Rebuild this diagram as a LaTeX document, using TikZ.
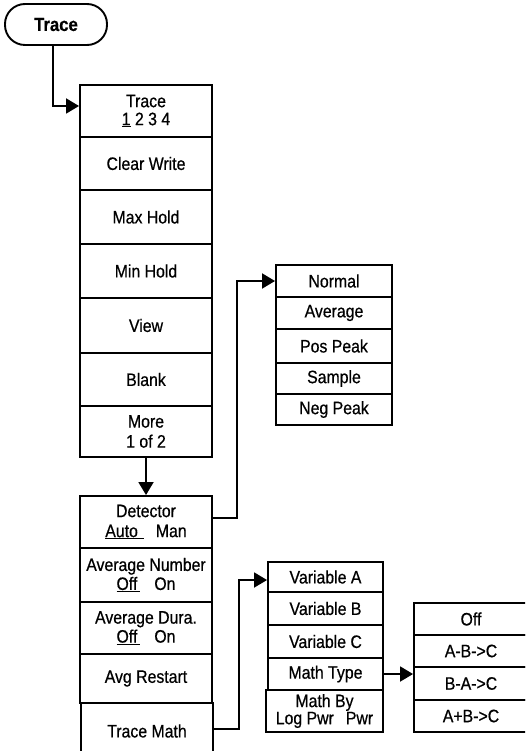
\documentclass[tikz,border=0pt]{standalone}
\usepackage{fontspec}
\setmainfont{Liberation Sans}[FakeStretch=0.88,FakeBold=0.6]
\usetikzlibrary{arrows.meta}
\begin{document}
\begin{tikzpicture}[x=1pt,y=-1pt,line width=1.9pt,
  txt/.style={font=\fontsize{18}{20}\selectfont},
  box/.style={draw, txt, inner sep=0pt, align=center},
  mainbox/.style={box, minimum width=132pt},
  detbox/.style={box, minimum width=116pt},
  varbox/.style={box, minimum width=115pt},
  mathbox/.style={box, minimum width=114pt},
  arr/.style={-{Triangle[length=13pt,width=15pt]}}]
\clip (0,0) rectangle (525,751);
% key
\node[draw, rounded corners=20pt, minimum width=102pt, minimum height=41pt, inner sep=0pt,
      font=\bfseries\fontsize{19}{20}\selectfont] (key) at (56,24.5) {Trace};
% main column
\node[mainbox, minimum height=52pt, font=\fontsize{18}{18}\selectfont] (trace) at (146,111) {Trace\\\underline{1} 2 3 4};
\node[mainbox, minimum height=53pt] (clear) at (146,163.5) {Clear Write};
\node[mainbox, minimum height=54pt] (max) at (146,217) {Max Hold};
\node[mainbox, minimum height=54pt] (min) at (146,271) {Min Hold};
\node[mainbox, minimum height=55pt] (view) at (146,325.5) {View};
\node[mainbox, minimum height=53pt] (blank) at (146,379.5) {Blank};
\node[mainbox, minimum height=51pt, font=\fontsize{18}{20}\selectfont] (more) at (146,431.5) {More\\1 of 2};
% second page
\node[mainbox, minimum height=52pt, font=\fontsize{18}{20}\selectfont] (det) at (146,522) {Detector\\\underline{Auto\,\,}\hspace{12pt}Man};
\node[mainbox, minimum height=54pt, font=\fontsize{18}{19}\selectfont] (avgn) at (146,575) {Average Number\\\underline{Off\,}\hspace{14pt}On};
\node[mainbox, minimum height=52pt, font=\fontsize{18}{19}\selectfont] (avgd) at (146,628) {Average Dura.\\\underline{Off\,}\hspace{14pt}On};
\node[mainbox, minimum height=49pt] (avgr) at (146,678.5) {Avg Restart};
\node[mainbox, minimum height=56pt] (tmath) at (147,731) {Trace Math};
% detector column
\node[detbox, minimum height=32pt] (normal) at (334,281) {Normal};
\node[detbox, minimum height=32pt] (average) at (334,313) {Average};
\node[detbox, minimum height=34pt] (pospeak) at (334,346) {Pos Peak};
\node[detbox, minimum height=31pt] (sample) at (334,378.5) {Sample};
\node[detbox, minimum height=31pt] (negpeak) at (334,409.5) {Neg Peak};
% trace math column
\node[varbox, minimum height=30pt] (vara) at (325.5,577) {Variable A};
\node[varbox, minimum height=33pt] (varb) at (325.5,608.5) {Variable B};
\node[varbox, minimum height=33pt] (varc) at (325.5,641.5) {Variable C};
\node[varbox, minimum height=32pt] (mtype) at (325.5,674) {Math Type};
\node[box, minimum width=117pt, minimum height=42pt, font=\fontsize{18}{16}\selectfont] (mby) at (324.5,711) {Math By\\Log Pwr\hspace{12pt}Pwr};
% math type column
\node[mathbox, minimum height=32pt] (off) at (471,619) {Off};
\node[mathbox, minimum height=32pt] (amb) at (471,651) {A-B->C};
\node[mathbox, minimum height=33pt] (bma) at (471,683.5) {B-A->C};
\node[mathbox, minimum height=32pt] (apb) at (471,716) {A+B->C};
% connectors
\draw[arr] ([xshift=-3pt]key.south) |- ([yshift=5pt]trace.west);
\draw[arr] (more.south) -- (det.north);
\draw[arr] ([yshift=4pt]det.east) -- ++(24,0) |- (normal.west);
\draw[arr] ([yshift=2pt]tmath.east) -- ++(25,0) |- ([yshift=-3pt]vara.west);
\draw[arr] (mtype.east) -- (mtype.east -| bma.west);
\end{tikzpicture}
\end{document}
